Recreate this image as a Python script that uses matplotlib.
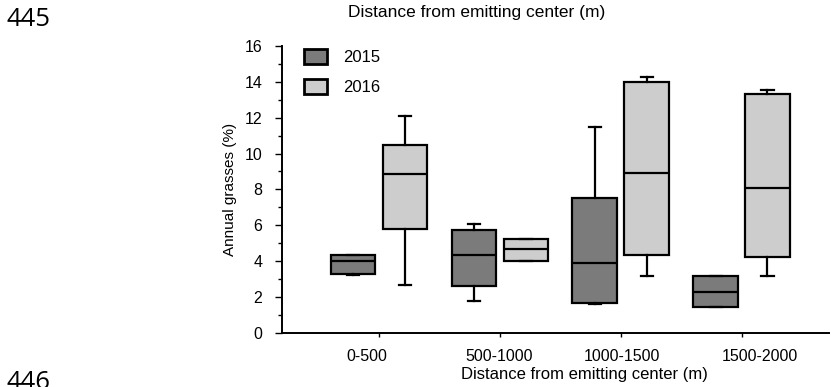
import matplotlib
matplotlib.use("Agg")
import matplotlib.pyplot as plt
from matplotlib.patches import Patch

plt.rcParams['font.family'] = ['Liberation Sans', 'DejaVu Sans']

# ---- data ----
categories = ["0-500", "500-1000", "1000-1500", "1500-2000"]
years = ["2015", "2016"]
# per category: (whislo, q1, med, q3, whishi)
stats_2015 = [
    (3.25, 3.27, 4.03, 4.35, 4.35),
    (1.78, 2.60, 4.35, 5.74, 6.09),
    (1.60, 1.69, 3.92, 7.51, 11.50),
    (1.45, 1.45, 2.27, 3.18, 3.18),
]
stats_2016 = [
    (2.69, 5.78, 8.85, 10.48, 12.08),
    (4.03, 4.03, 4.68, 5.26, 5.26),
    (3.19, 4.35, 8.94, 13.99, 14.25),
    (3.19, 4.25, 8.10, 13.34, 13.56),
]
yticks = [0, 2, 4, 6, 8, 10, 12, 14, 16]

# ---- style ----
colors = ["#7b7b7b", "#cdcdcd"]
offset = 0.215
box_w = 0.37
label_shift = [-0.10, -0.01, 0.01, 0.15]

fig = plt.figure(figsize=(8.31, 3.87), dpi=100)
ax = fig.add_axes([0.339, 0.1395, 0.658, 0.742])

def to_dicts(stats):
    out = []
    for lo, q1, med, q3, hi in stats:
        out.append(dict(whislo=lo, q1=q1, med=med, q3=q3, whishi=hi, fliers=[]))
    return out

lw = 1.6
for k, (stats, col) in enumerate(zip([stats_2015, stats_2016], colors)):
    pos = [i + 1 + (2 * k - 1) * offset for i in range(len(categories))]
    ax.bxp(to_dicts(stats), positions=pos, widths=box_w, patch_artist=True,
           showfliers=False,
           boxprops=dict(facecolor=col, edgecolor="black", linewidth=lw),
           medianprops=dict(color="black", linewidth=lw),
           whiskerprops=dict(color="black", linewidth=lw),
           capprops=dict(color="black", linewidth=lw),
           capwidths=0.1, zorder=3)

ax.set_xlim(0.194, 4.72)
ax.set_ylim(0, 16)
ax.set_yticks(yticks)
ax.set_yticks(range(1, 16, 2), minor=True)
ax.tick_params(axis='y', which='major', length=5, width=1, labelsize=11.5, pad=9)
ax.tick_params(axis='y', which='minor', length=3, width=1)

# tick marks at group centres, labels slightly shifted as in the reference
centers = list(range(1, len(categories) + 1))
ax.set_xticks(centers, minor=True)
ax.set_xticks([c + s for c, s in zip(centers, label_shift)])
ax.set_xticklabels(categories)
ax.tick_params(axis='x', which='minor', length=3, width=1)
ax.tick_params(axis='x', which='major', length=0, labelsize=11.5, pad=11.5)

for s in ["top", "right"]:
    ax.spines[s].set_visible(False)
for s in ["left", "bottom"]:
    ax.spines[s].set_linewidth(1.4)

ax.set_xlabel("Distance from emitting center (m)", fontsize=12, labelpad=0)
ax.xaxis.set_label_coords(0.554, -0.12)
ax.set_ylabel("Annual grasses (%)", fontsize=11, labelpad=5)

handles = [Patch(facecolor=c, edgecolor="black", linewidth=2) for c in colors]
leg = ax.legend(handles, years, loc="upper left", bbox_to_anchor=(0.041, 0.99),
                frameon=False, fontsize=12, handlelength=1.38, handleheight=1.05,
                labelspacing=0.82, handletextpad=0.95, borderpad=0, borderaxespad=0)

fig.text(0.574, 0.968, "Distance from emitting center (m)", ha="center", va="center",
         fontsize=12.5)
fig.text(0.008, 0.950, "445", ha="left", va="center", fontsize=18.5, family=['Open Sans'])
fig.text(0.008, 0.012, "446", ha="left", va="center", fontsize=18.5, family=['Open Sans'])

fig.savefig("out.png", dpi=100)
